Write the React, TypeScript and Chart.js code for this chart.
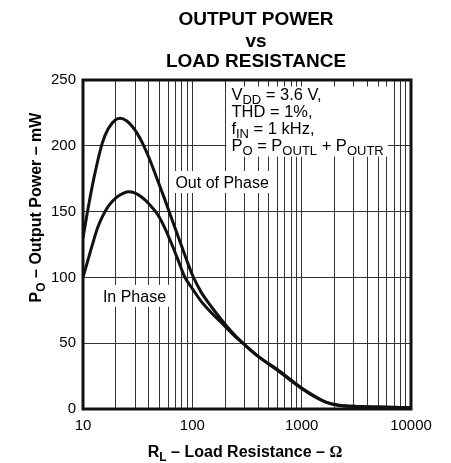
import React, { useEffect, useRef } from "react";
import { Chart, registerables } from "chart.js";

Chart.register(...registerables);

// ---- data ----
const titleLines = ["OUTPUT POWER", "vs", "LOAD RESISTANCE"];
const xTickLabels = [10, 100, 1000, 10000];
const yTickStep = 50;
const yMin = 0;
const yMax = 250;
const xMin = 10;
const xMax = 10000;

const outOfPhaseR = [10, 11, 12, 13, 15, 17, 20, 22, 25, 28, 31, 35, 41, 48, 55, 62, 75, 88, 100, 120, 150, 180, 230, 290, 400, 600, 800, 1000, 1300, 1700, 2200, 3000, 5000, 10000];
const outOfPhaseP = [130, 150, 167, 181, 202, 213, 220, 221, 219, 215, 210, 202, 189, 174, 161, 149, 130, 114, 102, 89, 77.5, 69, 58.5, 50, 40, 30, 22, 16, 10, 5, 2.8, 2, 1.5, 1];

const inPhaseR = [10, 11, 12.3, 13.5, 15, 17, 20, 23, 26, 30, 35, 40, 48, 55, 65, 75, 85, 100, 120, 150, 180, 230, 290, 400, 600, 800, 1000, 1300, 1700, 2200, 3000, 5000, 10000];
const inPhaseP = [100, 112, 126, 137, 146, 154, 160.5, 163.7, 165, 164, 160.5, 156, 148, 139, 125, 112, 100.5, 91.5, 82, 73, 66.5, 57.5, 50, 40, 29.5, 21.5, 15.5, 9.5, 4.8, 2.7, 2, 1.5, 1];

const seriesLabels = ["Out of Phase", "In Phase"];

type Seg = { t: string; sub?: boolean; font?: string };

const annotationLines: Seg[][] = [
  [{ t: "V" }, { t: "DD", sub: true }, { t: " = 3.6 V," }],
  [{ t: "THD = 1%," }],
  [{ t: "f" }, { t: "IN", sub: true }, { t: " = 1 kHz," }],
  [{ t: "P" }, { t: "O", sub: true }, { t: " = P" }, { t: "OUTL", sub: true }, { t: " + P" }, { t: "OUTR", sub: true }],
];
const xTitle: Seg[] = [{ t: "R" }, { t: "L", sub: true }, { t: " – Load Resistance – " }, { t: "Ω", font: "Liberation Serif" }];
const yTitle: Seg[] = [{ t: "P" }, { t: "O", sub: true }, { t: " – Output Power – mW" }];

// anchors in data units (R, mW)
const annotationAnchor = { r: 205, p: 245 };
const outLabelAnchor = { r: 70, p: 172.5 };
const inLabelAnchor = { r: 15.2, p: 86 };

const FAMILY = "'Liberation Sans', Arial, sans-serif";

function fontStr(size: number, bold: boolean, family?: string) {
  return `${bold ? "bold " : ""}${size}px ${family ? `'${family}', serif` : FAMILY}`;
}

function measureSegs(ctx: CanvasRenderingContext2D, segs: Seg[], size: number, bold: boolean, subRatio = 0.75) {
  let w = 0;
  for (const s of segs) {
    const sz = s.sub ? size * subRatio : size;
    ctx.font = fontStr(sz, bold, s.font);
    w += ctx.measureText(s.t).width;
  }
  return w;
}

function drawSegs(
  ctx: CanvasRenderingContext2D,
  segs: Seg[],
  x: number,
  y: number,
  size: number,
  bold: boolean,
  align: "left" | "center",
  subRatio = 0.75
) {
  const total = measureSegs(ctx, segs, size, bold, subRatio);
  let cx = align === "center" ? x - total / 2 : x;
  ctx.textBaseline = "alphabetic";
  ctx.textAlign = "left";
  for (const s of segs) {
    const sz = s.sub ? size * subRatio : size;
    ctx.font = fontStr(sz, bold, s.font);
    ctx.fillText(s.t, cx, s.sub ? y + size * 0.28 : y);
    cx += ctx.measureText(s.t).width;
  }
  return total;
}

const decorPlugin = {
  id: "decor",
  beforeDatasetsDraw(chart: any) {
    const ctx: CanvasRenderingContext2D = chart.ctx;
    const xs = chart.scales.x;
    const ys = chart.scales.y;
    ctx.save();
    ctx.fillStyle = "#000";

    // annotation block
    const ax = xs.getPixelForValue(annotationAnchor.r);
    const ay = ys.getPixelForValue(annotationAnchor.p);
    const aSize = 16.5;
    const sub = 0.79;
    const lineH = 17;
    let maxW = 0;
    for (const l of annotationLines) maxW = Math.max(maxW, measureSegs(ctx, l, aSize, false, sub));
    ctx.fillStyle = "#fff";
    ctx.fillRect(ax, ay, maxW + 9, lineH * annotationLines.length + 2);
    ctx.fillStyle = "#000";
    annotationLines.forEach((l, i) => {
      drawSegs(ctx, l, ax + 5, ay + 13 + i * lineH, aSize, false, "left", sub);
    });

    // curve labels
    const lSize = 16;
    const labels = [
      { text: seriesLabels[0], a: outLabelAnchor },
      { text: seriesLabels[1], a: inLabelAnchor },
    ];
    for (const lb of labels) {
      const lx = xs.getPixelForValue(lb.a.r);
      const ly = ys.getPixelForValue(lb.a.p);
      ctx.font = fontStr(lSize, false);
      const w = ctx.measureText(lb.text).width;
      ctx.fillStyle = "#fff";
      ctx.fillRect(lx - 4, ly - 11, w + 9, 22);
      ctx.fillStyle = "#000";
      ctx.textAlign = "left";
      ctx.textBaseline = "alphabetic";
      ctx.fillText(lb.text, lx, ly + 6);
    }
    ctx.restore();
  },
  afterDatasetsDraw(chart: any) {
    const ctx: CanvasRenderingContext2D = chart.ctx;
    const a = chart.chartArea;
    ctx.save();
    ctx.strokeStyle = "#111";
    ctx.lineWidth = 3;
    ctx.strokeRect(a.left, a.top, a.right - a.left, a.bottom - a.top);
    ctx.restore();
  },
  afterDraw(chart: any) {
    const ctx: CanvasRenderingContext2D = chart.ctx;
    const a = chart.chartArea;
    ctx.save();
    ctx.fillStyle = "#000";
    // title
    const tx = (a.left + a.right) / 2 + 9;
    const baselines = [25, 47, 67];
    titleLines.forEach((t, i) => {
      ctx.font = fontStr(19, true);
      ctx.textAlign = "center";
      ctx.textBaseline = "alphabetic";
      ctx.fillText(t, tx, baselines[i]);
    });
    // x title
    drawSegs(ctx, xTitle, (a.left + a.right) / 2 - 2, a.bottom + 48, 16, true, "center");
    // y title
    ctx.translate(a.left - 42, (a.top + a.bottom) / 2 - 37);
    ctx.rotate(-Math.PI / 2);
    drawSegs(ctx, yTitle, 0, 0, 16, true, "center");
    ctx.restore();
  },
};

export default function App() {
  const canvasRef = useRef<HTMLCanvasElement | null>(null);

  useEffect(() => {
    document.body.style.margin = "0";
    const canvas = canvasRef.current!;
    Chart.defaults.font.family = FAMILY;
    const gridValues: number[] = [];
    for (let d = xMin; d < xMax; d *= 10) {
      for (let m = 1; m <= 9; m++) gridValues.push(d * m);
    }
    gridValues.push(xMax);

    const lineStyle = {
      borderColor: "#111",
      borderWidth: 3,
      pointRadius: 0,
      cubicInterpolationMode: "monotone",
      fill: false,
    };

    const chart = new Chart(canvas, {
      type: "line",
      data: {
        datasets: [
          {
            label: seriesLabels[0],
            data: outOfPhaseR.map((r, i) => ({ x: r, y: outOfPhaseP[i] })),
            ...lineStyle,
          },
          {
            label: seriesLabels[1],
            data: inPhaseR.map((r, i) => ({ x: r, y: inPhaseP[i] })),
            ...lineStyle,
          },
        ],
      },
      options: {
        animation: false,
        responsive: false,
        maintainAspectRatio: false,
        layout: { padding: { top: 80, right: 40, left: 0, bottom: 0 } },
        plugins: {
          legend: { display: false },
          tooltip: { enabled: false },
          title: { display: false },
        },
        scales: {
          x: {
            type: "logarithmic",
            min: xMin,
            max: xMax,
            afterFit: (s: any) => {
              s.height = 54;
            },
            afterBuildTicks: (s: any) => {
              s.ticks = gridValues.map((v) => ({ value: v }));
            },
            ticks: {
              autoSkip: false,
              maxRotation: 0,
              minRotation: 0,
              padding: 8,
              color: "#000",
              font: { size: 15 },
              callback: (v: any) => (xTickLabels.includes(Number(v)) ? String(v) : ""),
            },
            grid: { color: "#333", lineWidth: 1, drawTicks: false },
            border: { display: false },
          },
          y: {
            type: "linear",
            min: yMin,
            max: yMax,
            afterFit: (s: any) => {
              s.width = 83;
            },
            ticks: {
              stepSize: yTickStep,
              padding: 7,
              color: "#000",
              font: { size: 15 },
            },
            grid: { color: "#333", lineWidth: 1, drawTicks: false },
            border: { display: false },
          },
        },
      },
      plugins: [decorPlugin],
    } as any);

    return () => chart.destroy();
  }, []);

  return (
    <div style={{ width: 451, height: 463, background: "#fff" }}>
      <canvas ref={canvasRef} width={451} height={463} style={{ display: "block" }} />
    </div>
  );
}
